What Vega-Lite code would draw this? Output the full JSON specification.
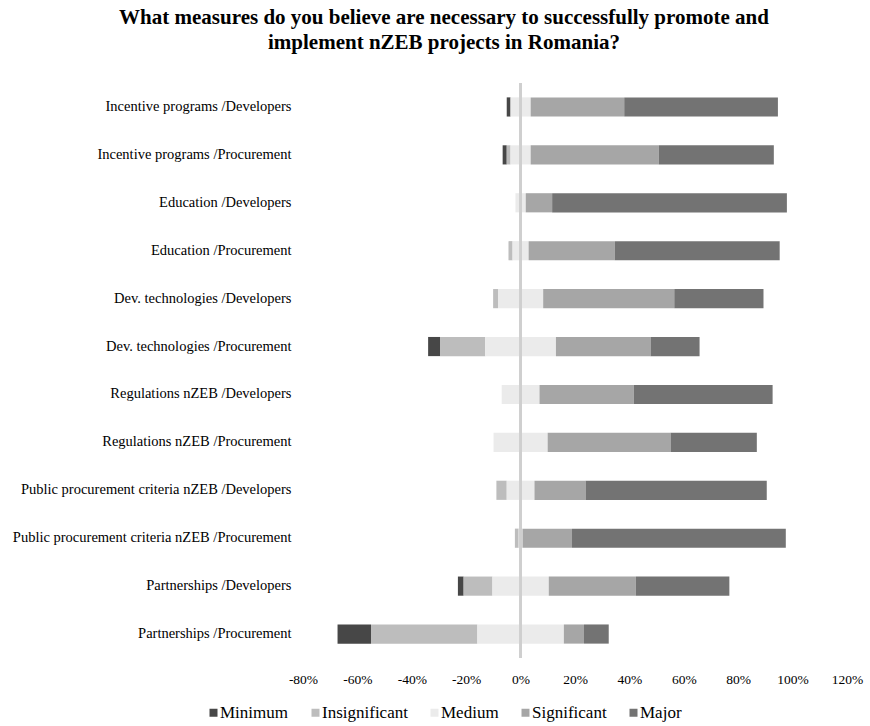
{
  "$schema": "https://vega.github.io/schema/vega-lite/v6.json",
  "autosize": {"type": "none"},
  "padding": {"left": 303, "top": 83, "right": 23, "bottom": 68},
  "width": 544,
  "height": 575,
  "background": "white",
  "title": {
    "text": ["What measures do you believe are necessary to successfully promote and", "implement nZEB projects in Romania?"],
    "font": "Liberation Serif",
    "fontSize": 21,
    "fontWeight": "bold",
    "color": "#000000",
    "anchor": "middle",
    "frame": "group",
    "dx": -131,
    "dy": -17,
    "lineHeight": 25,
    "offset": 12
  },
  "config": {
    "font": "Liberation Serif",
    "view": {"stroke": null},
    "axis": {"grid": false, "domain": false, "ticks": false, "labelFont": "Liberation Serif"},
    "legend": {"labelFont": "Liberation Serif"}
  },
  "data": {
    "values": [
      {"measure": "Incentive programs /Developers", "level": "Minimum", "value": 1.4},
      {"measure": "Incentive programs /Developers", "level": "Insignificant", "value": 0},
      {"measure": "Incentive programs /Developers", "level": "Medium", "value": 7.4},
      {"measure": "Incentive programs /Developers", "level": "Significant", "value": 34.4},
      {"measure": "Incentive programs /Developers", "level": "Major", "value": 56.5},

      {"measure": "Incentive programs /Procurement", "level": "Minimum", "value": 1.5},
      {"measure": "Incentive programs /Procurement", "level": "Insignificant", "value": 1.4},
      {"measure": "Incentive programs /Procurement", "level": "Medium", "value": 7.4},
      {"measure": "Incentive programs /Procurement", "level": "Significant", "value": 47.1},
      {"measure": "Incentive programs /Procurement", "level": "Major", "value": 42.3},

      {"measure": "Education /Developers", "level": "Minimum", "value": 0},
      {"measure": "Education /Developers", "level": "Insignificant", "value": 0},
      {"measure": "Education /Developers", "level": "Medium", "value": 3.8},
      {"measure": "Education /Developers", "level": "Significant", "value": 9.7},
      {"measure": "Education /Developers", "level": "Major", "value": 86.3},

      {"measure": "Education /Procurement", "level": "Minimum", "value": 0},
      {"measure": "Education /Procurement", "level": "Insignificant", "value": 1.5},
      {"measure": "Education /Procurement", "level": "Medium", "value": 5.9},
      {"measure": "Education /Procurement", "level": "Significant", "value": 31.7},
      {"measure": "Education /Procurement", "level": "Major", "value": 60.6},

      {"measure": "Dev. technologies  /Developers", "level": "Minimum", "value": 0},
      {"measure": "Dev. technologies  /Developers", "level": "Insignificant", "value": 1.8},
      {"measure": "Dev. technologies  /Developers", "level": "Medium", "value": 16.6},
      {"measure": "Dev. technologies  /Developers", "level": "Significant", "value": 48.2},
      {"measure": "Dev. technologies  /Developers", "level": "Major", "value": 32.8},

      {"measure": "Dev. technologies  /Procurement", "level": "Minimum", "value": 4.5},
      {"measure": "Dev. technologies  /Procurement", "level": "Insignificant", "value": 16.5},
      {"measure": "Dev. technologies  /Procurement", "level": "Medium", "value": 26.0},
      {"measure": "Dev. technologies  /Procurement", "level": "Significant", "value": 34.8},
      {"measure": "Dev. technologies  /Procurement", "level": "Major", "value": 18.0},

      {"measure": "Regulations  nZEB /Developers", "level": "Minimum", "value": 0},
      {"measure": "Regulations  nZEB /Developers", "level": "Insignificant", "value": 0},
      {"measure": "Regulations  nZEB /Developers", "level": "Medium", "value": 13.9},
      {"measure": "Regulations  nZEB /Developers", "level": "Significant", "value": 34.7},
      {"measure": "Regulations  nZEB /Developers", "level": "Major", "value": 51.0},

      {"measure": "Regulations  nZEB /Procurement", "level": "Minimum", "value": 0},
      {"measure": "Regulations  nZEB /Procurement", "level": "Insignificant", "value": 0},
      {"measure": "Regulations  nZEB /Procurement", "level": "Medium", "value": 19.9},
      {"measure": "Regulations  nZEB /Procurement", "level": "Significant", "value": 45.2},
      {"measure": "Regulations  nZEB /Procurement", "level": "Major", "value": 31.7},

      {"measure": "Public procurement criteria nZEB /Developers", "level": "Minimum", "value": 0},
      {"measure": "Public procurement criteria nZEB /Developers", "level": "Insignificant", "value": 3.8},
      {"measure": "Public procurement criteria nZEB /Developers", "level": "Medium", "value": 10.2},
      {"measure": "Public procurement criteria nZEB /Developers", "level": "Significant", "value": 18.8},
      {"measure": "Public procurement criteria nZEB /Developers", "level": "Major", "value": 66.6},

      {"measure": "Public procurement criteria nZEB /Procurement", "level": "Minimum", "value": 0},
      {"measure": "Public procurement criteria nZEB /Procurement", "level": "Insignificant", "value": 1.4},
      {"measure": "Public procurement criteria nZEB /Procurement", "level": "Medium", "value": 1.4},
      {"measure": "Public procurement criteria nZEB /Procurement", "level": "Significant", "value": 18.2},
      {"measure": "Public procurement criteria nZEB /Procurement", "level": "Major", "value": 78.6},

      {"measure": "Partnerships  /Developers", "level": "Minimum", "value": 2.1},
      {"measure": "Partnerships  /Developers", "level": "Insignificant", "value": 10.6},
      {"measure": "Partnerships  /Developers", "level": "Medium", "value": 20.7},
      {"measure": "Partnerships  /Developers", "level": "Significant", "value": 32.0},
      {"measure": "Partnerships  /Developers", "level": "Major", "value": 34.4},

      {"measure": "Partnerships   /Procurement", "level": "Minimum", "value": 12.3},
      {"measure": "Partnerships   /Procurement", "level": "Insignificant", "value": 39.1},
      {"measure": "Partnerships   /Procurement", "level": "Medium", "value": 31.8},
      {"measure": "Partnerships   /Procurement", "level": "Significant", "value": 7.4},
      {"measure": "Partnerships   /Procurement", "level": "Major", "value": 9.1}
    ]
  },
  "layer": [
    {
      "transform": [
        {"calculate": "indexof(['Minimum','Insignificant','Medium','Significant','Major'], datum.level)", "as": "q_order"},
        {"calculate": "(datum.level === 'Minimum' || datum.level === 'Insignificant' ? datum.value : 0) + (datum.level === 'Medium' ? datum.value / 2 : 0)", "as": "signed"},
        {"stack": "value", "as": ["v1", "v2"], "groupby": ["measure"], "sort": [{"field": "q_order", "order": "ascending"}]},
        {"joinaggregate": [{"op": "sum", "field": "signed", "as": "offset"}], "groupby": ["measure"]},
        {"calculate": "(datum.v1 - datum.offset) / 100", "as": "x1"},
        {"calculate": "(datum.v2 - datum.offset) / 100", "as": "x2"}
      ],
      "mark": {"type": "bar"},
      "encoding": {
        "y": {
          "field": "measure",
          "type": "nominal",
          "sort": null,
          "scale": {"paddingInner": 0.6, "paddingOuter": 0.3},
          "axis": {
            "title": null,
            "labelFont": "Liberation Serif",
            "labelFontSize": 14.5,
            "labelColor": "#000000",
            "labelPadding": 12,
            "labelLimit": 320
          }
        },
        "x": {
          "field": "x1",
          "type": "quantitative",
          "scale": {"domain": [-0.8, 1.2], "nice": false, "zero": false},
          "axis": {
            "title": null,
            "values": [-0.8, -0.6, -0.4, -0.2, 0, 0.2, 0.4, 0.6, 0.8, 1.0, 1.2],
            "labelExpr": "(datum.value < 0 ? '-' : '') + format(abs(datum.value) * 100, '.0f') + '%'",
            "labelFont": "Liberation Serif",
            "labelFontSize": 13.5,
            "labelColor": "#000000",
            "labelPadding": 14,
            "labelOverlap": false,
            "labelFlush": false
          }
        },
        "x2": {"field": "x2"},
        "color": {
          "field": "level",
          "type": "nominal",
          "scale": {
            "domain": ["Minimum", "Insignificant", "Medium", "Significant", "Major"],
            "range": ["#474747", "#bdbdbd", "#ebebeb", "#a6a6a6", "#737373"]
          },
          "legend": {
            "title": null,
            "orient": "none",
            "direction": "horizontal",
            "legendX": -98,
            "legendY": 621,
            "symbolType": "square",
            "symbolSize": 64,
            "symbolStrokeWidth": 0,
            "symbolOffset": 0,
            "labelOffset": -2,
            "columnPadding": 18,
            "labelFont": "Liberation Serif",
            "labelFontSize": 17,
            "labelColor": "#000000"
          }
        }
      }
    },
    {
      "mark": {"type": "rule", "color": "#cfcfcf", "strokeWidth": 2},
      "encoding": {"x": {"datum": 0}}
    }
  ]
}
